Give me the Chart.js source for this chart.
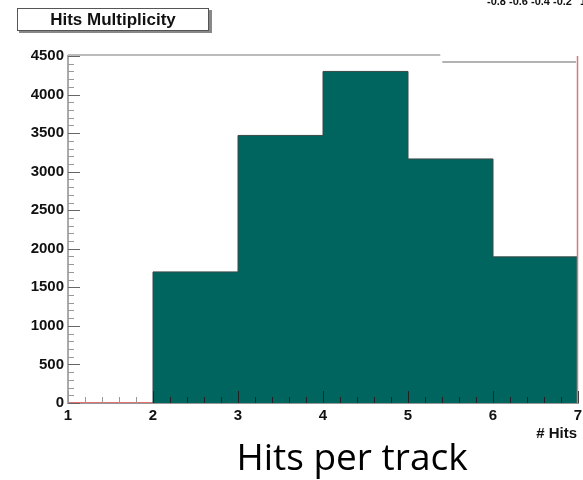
<!DOCTYPE html>
<html>
<head>
<meta charset="utf-8">
<script src="https://cdn.jsdelivr.net/npm/chart.js@4/dist/chart.umd.min.js"></script>
<style>
  html, body { margin: 0; padding: 0; background: #fff; }
  #wrap { position: relative; width: 583px; height: 480px; }
</style>
</head>
<body>
<div id="wrap"><canvas id="hits"></canvas></div>
<script>
const binEdges = [1, 2, 3, 4, 5, 6, 7];
const counts = [0, 1700, 3470, 4300, 3165, 1895];
const yMax = 4500;
const yStep = 500;

// stepped outline ('after' mode): start at the first edge, then one point per right bin edge
const points = [{ x: binEdges[0], y: counts[0] }]
    .concat(counts.map((c, i) => ({ x: binEdges[i + 1], y: c })));

const bold = '"Liberation Sans", Arial, sans-serif';

const rootFrame = {
    id: 'rootFrame',
    afterDatasetsDraw(chart) {
        const { ctx, chartArea: a, scales: { x, y } } = chart;
        ctx.save();

        // minor / major ticks drawn inside the frame, ROOT style
        ctx.lineWidth = 1;
        for (let v = 0; v <= yMax; v += 100) {
            const py = Math.round(y.getPixelForValue(v)) + 0.5;
            const len = v % yStep === 0 ? 12 : 6;
            ctx.strokeStyle = v % yStep === 0 ? '#666' : '#999';
            ctx.beginPath();
            ctx.moveTo(a.left, py);
            ctx.lineTo(a.left + len, py);
            ctx.stroke();
        }
        for (let i = 0; i <= (binEdges.length - 1) * 5; i++) {
            const v = binEdges[0] + i * 0.2;
            const px = Math.round(x.getPixelForValue(v)) + 0.5;
            const len = i % 5 === 0 ? 12 : 6;
            ctx.strokeStyle = v < binEdges[1] ? '#999' : '#222';
            ctx.beginPath();
            ctx.moveTo(px, a.bottom);
            ctx.lineTo(px, a.bottom - len);
            ctx.stroke();
        }

        // frame top (broken by the stat box) and red right edge
        const split = x.getPixelForValue(5.38);
        ctx.strokeStyle = '#bbb';
        ctx.lineWidth = 2;
        ctx.beginPath();
        ctx.moveTo(a.left, a.top - 1);
        ctx.lineTo(split, a.top - 1);
        ctx.stroke();
        ctx.strokeStyle = '#999';
        ctx.lineWidth = 1.5;
        ctx.beginPath();
        ctx.moveTo(split + 2, a.top + 6);
        ctx.lineTo(a.right - 2, a.top + 6);
        ctx.stroke();
        ctx.strokeStyle = '#d87878';
        ctx.lineWidth = 1.5;
        ctx.beginPath();
        ctx.moveTo(a.right - 0.5, a.top);
        ctx.lineTo(a.right - 0.5, a.bottom);
        ctx.stroke();
        ctx.restore();
    },
    afterDraw(chart) {
        const { ctx } = chart;
        ctx.save();

        // histogram title box with shadow
        ctx.fillStyle = '#888';
        ctx.fillRect(19, 10, 193, 23);
        ctx.fillStyle = '#fff';
        ctx.fillRect(17, 8, 192, 23);
        ctx.strokeStyle = '#555';
        ctx.lineWidth = 1;
        ctx.strokeRect(17.5, 8.5, 191, 22);
        ctx.fillStyle = '#111';
        ctx.font = 'bold 17px ' + bold;
        ctx.textAlign = 'center';
        ctx.textBaseline = 'middle';
        ctx.fillText('Hits Multiplicity', 113, 20);

        // clipped palette labels in the corner
        ctx.font = 'bold 11px ' + bold;
        ctx.textAlign = 'left';
        ctx.textBaseline = 'alphabetic';
        ctx.fillText('-0.8 -0.6 -0.4 -0.2', 487, 5);
        ctx.fillText('1', 580, 5);

        // axis title
        ctx.font = 'bold 15px ' + bold;
        ctx.textAlign = 'right';
        ctx.fillText('# Hits', 577, 438);

        // slide caption
        ctx.fillStyle = '#000';
        ctx.font = '37px "Open Sans", sans-serif';
        ctx.textAlign = 'center';
        ctx.fillText('Hits per track', 352, 470);
        ctx.restore();
    }
};

new Chart(document.getElementById('hits'), {
    type: 'line',
    data: {
        datasets: [{
            data: points,
            stepped: 'after',
            fill: 'origin',
            backgroundColor: '#00655f',
            borderColor: '#3a4a48',
            borderWidth: 1,
            pointRadius: 0,
            segment: {
                borderColor: s => (s.p0.parsed.y === 0 && s.p1.parsed.y === 0 ? '#e07070' : undefined),
                borderWidth: s => (s.p0.parsed.y === 0 && s.p1.parsed.y === 0 ? 2 : undefined)
            }
        }]
    },
    options: {
        responsive: true,
        maintainAspectRatio: false,
        animation: false,
        layout: { padding: { top: 56, right: 0, left: 0, bottom: 0 } },
        plugins: { legend: { display: false }, tooltip: { enabled: false } },
        scales: {
            x: {
                type: 'linear',
                min: binEdges[0],
                max: binEdges[binEdges.length - 1],
                afterFit: s => { s.height = 77; s.paddingRight = 5; },
                ticks: {
                    stepSize: 1,
                    padding: 4,
                    color: '#111',
                    callback: v => String(v),
                    font: { family: bold, size: 15, weight: 'bold' }
                },
                grid: { drawOnChartArea: false, drawTicks: false },
                border: { color: '#333', width: 1.5 }
            },
            y: {
                min: 0,
                max: yMax,
                afterFit: s => { s.width = 68; },
                ticks: {
                    stepSize: yStep,
                    padding: 4,
                    color: '#111',
                    callback: v => String(v),
                    font: { family: bold, size: 15, weight: 'bold' }
                },
                grid: { drawOnChartArea: false, drawTicks: false },
                border: { color: '#aaa', width: 2 }
            }
        }
    },
    plugins: [rootFrame]
});
</script>
</body>
</html>
